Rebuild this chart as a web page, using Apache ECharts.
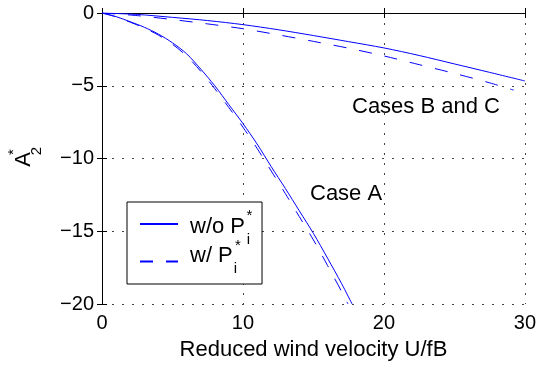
<!DOCTYPE html>
<html>
<head>
<meta charset="utf-8">
<script src="https://cdn.jsdelivr.net/npm/echarts@6/dist/echarts.min.js"></script>
<style>
  html, body { margin: 0; background: #fff; }
  #chart { width: 539px; height: 368px; }
</style>
</head>
<body>
<div id="chart"></div>
<script>
// axis ticks
const xTicks = [0, 10, 20, 30];
const yTicks = [-20, -15, -10, -5, 0];

// Case A as [U/fB, A2*]
const caseAWithout = [
  [0, 0], [1, -0.25], [2, -0.6], [3, -0.98], [4, -1.45], [5, -2.05], [6, -2.8],
  [7, -3.85], [8, -5.0], [9, -6.3], [10, -7.6], [11, -9.0], [12, -10.55],
  [13, -12.05], [14, -13.6], [15, -15.15], [16, -16.85], [17, -18.6], [17.74, -20]
];
const caseAWith = [
  [0, 0], [1, -0.27], [2, -0.63], [3, -1.03], [4, -1.52], [5, -2.15], [6, -2.95],
  [7, -4.0], [8, -5.2], [9, -6.5], [10, -7.85], [11, -9.3], [12, -10.85],
  [13, -12.4], [14, -14.0], [15, -15.6], [16, -17.35], [17, -19.15], [17.45, -20]
];

// Cases B and C
const caseBCWithout = [
  [0, 0], [2.5, -0.1], [5, -0.3], [7.5, -0.52], [10, -0.8], [12.5, -1.15],
  [15, -1.55], [17.5, -1.97], [20, -2.4], [22.5, -2.92], [25, -3.5],
  [27.5, -4.08], [30, -4.67]
];
const caseBCWith = [
  [0, 0], [2.5, -0.18], [5, -0.45], [7.5, -0.75], [10, -1.08], [12.5, -1.5],
  [15, -1.95], [17.5, -2.42], [20, -2.95], [22.5, -3.55], [25, -4.15],
  [27.5, -4.8], [29.2, -5.3]
];

const font = 'Liberation Sans, Arial, Helvetica, sans-serif';
const blue = '#0000ff';
const minus = v => (v < 0 ? '\u2212' + (-v) : String(v));

const chart = echarts.init(document.getElementById('chart'));

const frameAxis = {
  type: 'value',
  axisLine: { show: true, lineStyle: { color: '#000', width: 1 } },
  axisTick: { show: true, inside: true, length: 5, lineStyle: { color: '#000' } },
  splitLine: { show: false },
  axisLabel: { show: false }
};
const gridDots = { show: true, lineStyle: { color: '#444', width: 1, type: [2, 8] } };

function lineSeries(name, data, dashed) {
  return {
    name: name,
    type: 'line',
    data: data,
    symbol: 'none',
    smooth: 0.3,
    itemStyle: { color: blue },
    lineStyle: { color: blue, width: 1, type: dashed ? [13, 13] : 'solid' }
  };
}

function smallText(x, y, text, rotate) {
  return {
    type: 'text', x: x, y: y, z: 100, rotation: rotate ? Math.PI / 2 : 0,
    style: { text: text, font: '15px ' + font, fill: '#000', align: 'center', verticalAlign: 'middle' }
  };
}

chart.setOption({
  animation: false,
  grid: { left: 102, right: 12, top: 13, bottom: 64 },
  xAxis: [
    Object.assign({}, frameAxis, {
      position: 'bottom',
      min: xTicks[0], max: xTicks[xTicks.length - 1], interval: 10,
      splitLine: gridDots,
      axisLabel: { show: true, margin: 9, color: '#000', fontSize: 20, fontFamily: font },
      name: 'Reduced wind velocity U/fB',
      nameLocation: 'middle',
      nameGap: 35,
      nameTextStyle: { color: '#000', fontSize: 22, fontFamily: font }
    }),
    Object.assign({}, frameAxis, {
      position: 'top',
      min: xTicks[0], max: xTicks[xTicks.length - 1], interval: 10
    })
  ],
  yAxis: [
    Object.assign({}, frameAxis, {
      position: 'left',
      min: yTicks[0], max: yTicks[yTicks.length - 1], interval: 5,
      splitLine: gridDots,
      axisLabel: { show: true, margin: 8, color: '#000', fontSize: 20, fontFamily: font, formatter: minus }
    }),
    Object.assign({}, frameAxis, {
      position: 'right',
      min: yTicks[0], max: yTicks[yTicks.length - 1], interval: 5
    })
  ],
  legend: {
    orient: 'vertical',
    left: 127,
    top: 202,
    padding: [8, 17, 6, 12],
    itemWidth: 38,
    itemHeight: 14,
    itemGap: 7,
    backgroundColor: '#fff',
    borderColor: '#000',
    borderWidth: 1,
    itemStyle: { opacity: 0 },
    formatter: name => (name === 'w/o P' ? '{a|' + name + '}' : '{b|' + name + '}'),
    textStyle: {
      color: '#000', fontSize: 22, fontFamily: font,
      rich: {
        a: { color: '#000', fontSize: 22, fontFamily: font, lineHeight: 22, padding: [6, 0, 0, 7] },
        b: { color: '#000', fontSize: 22, fontFamily: font, lineHeight: 22, padding: [0, 0, 11, 7] }
      }
    },
    data: ['w/o P', 'w/ P']
  },
  graphic: [
    // y axis title A*_2
    { type: 'text', x: 24, y: 159.5, rotation: Math.PI / 2,
      style: { text: 'A', font: '22px ' + font, fill: '#000', align: 'center', verticalAlign: 'middle' } },
    smallText(13.4, 152, '*', true),
    smallText(36.5, 151, '2', true),
    // legend super/subscripts
    smallText(249.5, 216, '*'),
    smallText(248.5, 240, 'i'),
    smallText(238, 245.5, '*'),
    smallText(235.5, 269, 'i'),
    // annotations
    { type: 'text', x: 310, y: 194,
      style: { text: 'Case A', font: '22px ' + font, fill: '#000', align: 'left', verticalAlign: 'middle' } },
    { type: 'text', x: 352, y: 106.7,
      style: { text: 'Cases B and C', font: '22px ' + font, fill: '#000', align: 'left', verticalAlign: 'middle' } }
  ],
  series: [
    lineSeries('w/o P', caseAWithout, false),
    lineSeries('w/ P', caseAWith, true),
    lineSeries('w/o P', caseBCWithout, false),
    lineSeries('w/ P', caseBCWith, true)
  ]
});
</script>
</body>
</html>
